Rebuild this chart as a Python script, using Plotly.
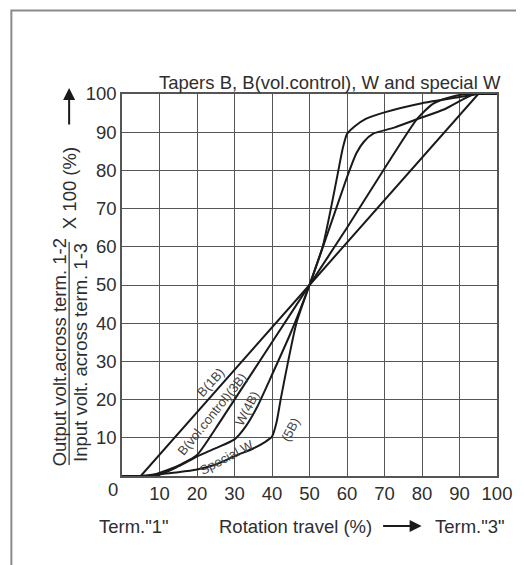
import plotly.graph_objects as go

# ---- data (rotation travel %, output ratio %) ----
travel_1B = [0, 5, 50, 95, 100]
out_1B = [0, 0, 50, 100, 100]

travel_3B = [0, 7, 12, 16, 20, 25, 30, 40, 50, 60, 70, 78.7, 83, 88, 92, 100]
out_3B = [0, 0, 1.5, 3.2, 5.5, 12.5, 20, 35, 50, 65, 80.5, 93.5, 97.5, 99.3, 100, 100]

travel_4B = [0, 9, 15, 20, 25, 30, 33, 36, 40, 45, 50, 55, 60.4, 62.5, 64.5, 67, 72.6, 78.7, 86, 94, 100]
out_4B = [0, 0, 2.5, 5.1, 7.3, 9.6, 13, 18, 26.5, 37.5, 50, 64, 79.3, 84.5, 87.5, 89.6, 91.2, 93.4, 96, 100, 100]

travel_5B = [0, 5, 10, 15, 20, 25, 30, 35, 38, 40, 41.2, 42.3, 44.3, 46.5, 50, 53.5, 55.7, 57.7, 58.8, 60, 62, 65, 70, 80, 90, 95, 100]
out_5B = [0, 0, 0.5, 1, 1.7, 3, 5.2, 7.2, 8.8, 10.3, 14, 20, 30, 40, 50, 60, 70, 80, 85.5, 89.5, 91.5, 93.5, 95.2, 97.6, 99.2, 100, 100]

tick_vals = [10, 20, 30, 40, 50, 60, 70, 80, 90, 100]
tick_text = [str(v) for v in tick_vals]

FONT = "Liberation Sans, Arial, sans-serif"
TXT = "#2e2e2e"
LINE = "#1a1a1a"
GRID = "#555555"
FS = 18.5

fig = go.Figure()
for xs, ys, shp in [(travel_1B, out_1B, "linear"), (travel_3B, out_3B, "spline"),
                    (travel_4B, out_4B, "spline"), (travel_5B, out_5B, "spline")]:
    fig.add_trace(go.Scatter(x=xs, y=ys, mode="lines",
                             line=dict(color=LINE, width=2, shape=shp, smoothing=0.6),
                             showlegend=False, hoverinfo="skip"))

# page body has an 8px margin; figure is sized so it fills the window exactly
fig.update_layout(
    width=516, height=557,
    margin=dict(l=114, r=19, t=86, b=89),
    paper_bgcolor="white", plot_bgcolor="white",
    font=dict(family=FONT, size=FS, color=TXT),
    showlegend=False,
)
fig.update_xaxes(range=[0, 100], tickvals=tick_vals, ticktext=tick_text,
                 showgrid=True, gridcolor=GRID, gridwidth=1.3,
                 showline=True, linecolor=GRID, linewidth=1.5, mirror=True,
                 ticks="", zeroline=False, tickfont=dict(size=FS, color=TXT))
fig.update_yaxes(range=[0, 100], tickvals=tick_vals, ticktext=tick_text,
                 showgrid=True, gridcolor=GRID, gridwidth=1.3,
                 showline=True, linecolor=GRID, linewidth=1.5, mirror=True,
                 ticks="", zeroline=False, tickfont=dict(size=FS, color=TXT))

def px2x(px):
    return (px - 122) / 383.0

def py2y(py):
    return (476 - py) / 382.0

ann = []
ann.append(dict(x=px2x(113), y=py2y(489), xref="paper", yref="paper", text="0",
                showarrow=False, xanchor="center", yanchor="middle"))
ann.append(dict(x=px2x(334), y=py2y(82), xref="paper", yref="paper",
                text="Tapers B, B(vol.control), W and special W", showarrow=False,
                xanchor="center", yanchor="middle"))
ann.append(dict(x=px2x(134), y=py2y(526), xref="paper", yref="paper", text='Term."1"',
                showarrow=False, xanchor="center", yanchor="middle"))
ann.append(dict(x=px2x(299), y=py2y(526), xref="paper", yref="paper", text="Rotation travel (%)",
                showarrow=False, xanchor="center", yanchor="middle"))
ann.append(dict(x=px2x(477), y=py2y(526), xref="paper", yref="paper", text='Term."3"',
                showarrow=False, xanchor="center", yanchor="middle"))
ann.append(dict(x=px2x(428), y=py2y(526), xref="paper", yref="paper", text="",
                showarrow=True, ax=-40, ay=0, arrowhead=2, arrowsize=1.2, arrowwidth=2,
                arrowcolor=LINE))
ann.append(dict(x=px2x(58), y=py2y(352), xref="paper", yref="paper",
                text="Output volt.across term. 1-2", textangle=-90, showarrow=False,
                xanchor="center", yanchor="middle"))
ann.append(dict(x=px2x(79), y=py2y(352), xref="paper", yref="paper",
                text="Input volt. across term. 1-3", textangle=-90, showarrow=False,
                xanchor="center", yanchor="middle"))
ann.append(dict(x=px2x(68), y=py2y(188), xref="paper", yref="paper",
                text="X 100 (%)", textangle=-90, showarrow=False,
                xanchor="center", yanchor="middle"))
ann.append(dict(x=px2x(68), y=py2y(88), xref="paper", yref="paper", text="",
                showarrow=True, ax=0, ay=38, arrowhead=2, arrowsize=1.2, arrowwidth=2,
                arrowcolor=LINE))
LAB = dict(size=13, color="#444444")
ann.append(dict(x=23.6, y=24.5, xref="x", yref="y", text="B(1B)", textangle=-48,
                showarrow=False, font=LAB))
ann.append(dict(x=24.0, y=16.0, xref="x", yref="y", text="B(vol.control)(3B)", textangle=-51,
                showarrow=False, font=LAB))
ann.append(dict(x=33.4, y=17.6, xref="x", yref="y", text="W(4B)", textangle=-62,
                showarrow=False, font=LAB))
ann.append(dict(x=27.8, y=4.9, xref="x", yref="y", text="Special W", textangle=-28,
                showarrow=False, font=LAB))
ann.append(dict(x=44.9, y=12.2, xref="x", yref="y", text="(5B)", textangle=-62,
                showarrow=False, font=LAB))
fig.update_layout(annotations=ann)

shapes = [
    dict(type="line", xref="paper", yref="paper", x0=px2x(68), x1=px2x(68),
         y0=py2y(465), y1=py2y(242), line=dict(color=TXT, width=1.2)),
    dict(type="rect", xref="paper", yref="paper", x0=px2x(9), x1=px2x(560),
         y0=py2y(620), y1=py2y(10.5), line=dict(color="#8a8a8a", width=2)),
]
fig.update_layout(shapes=shapes)

fig.write_html("out.html")
